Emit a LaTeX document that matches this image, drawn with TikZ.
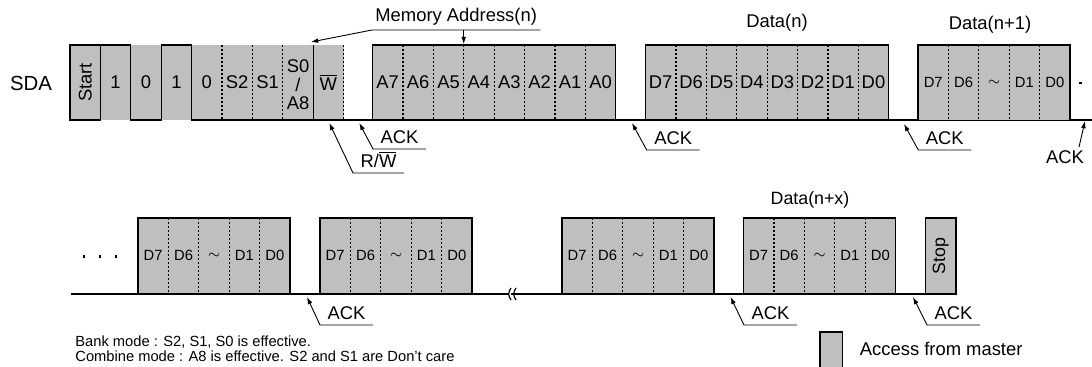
\documentclass[tikz,border=0pt]{standalone}
\usepackage{fontspec}
\setmainfont{Liberation Sans}
\usetikzlibrary{arrows.meta,positioning,calc}
\definecolor{mastergray}{RGB}{190,191,193}
\newcommand{\fsz}[1]{\fontsize{#1}{#1}\selectfont}

\begin{document}
\begin{tikzpicture}[x=0.5pt, y=-0.5pt,
    wave/.style={line width=0.6pt, line join=miter},
    sep/.style={line width=0.6pt, dash pattern=on 1pt off 1pt},
    lead/.style={line width=0.45pt, -{Latex[length=3.6pt,width=2.4pt]}},
    tag/.style={font=\fsz{9.2}, inner xsep=3.6pt, inner ysep=2.3pt, anchor=south west},
    bit/.style={font=\fsz{9.2}, inner sep=0pt},
    sbit/.style={font=\fsz{7.4}, inner sep=0pt},
    ttl/.style={font=\fsz{9.2}, inner sep=0pt}
]
    \useasboundingbox (0,0) rectangle (1092,367);

    % --- first row: device address, memory address, data
    \fill[mastergray] (70,45) rectangle (343.6,120);
    \fill[mastergray] (372.5,45) rectangle (615.7,120);
    \fill[mastergray] (645.5,45) rectangle (888.7,120);

    \foreach \x in {222,252.4,282.8,343.6} \draw[sep] (\x,45) -- (\x,120);
    \foreach \j in {1,...,7} {
        \draw[sep] (372.5+30.4*\j,45) -- ++(0,75);
        \draw[sep] (645.5+30.4*\j,45) -- ++(0,75);
    }

    \draw[wave] (70,120) rectangle (100.4,45);
    \draw[wave] (100.4,45) -- (130.8,45) -- (130.8,120) -- (161.2,120) -- (161.2,45)
        -- (191.6,45) -- (191.6,120) -- (1092,120);
    \draw[wave] (313.2,45) -- (313.2,120);
    \draw[wave] (372.5,120) |- (615.7,45) -- (615.7,120);
    \draw[wave] (645.5,120) |- (888.7,45) -- (888.7,120);

    \node[font=\fsz{10.2}] (sda) at (31,83) {SDA};
    \node[bit, rotate=90] (start) at (85.2,82.5) {Start};
    \foreach \t [count=\i] in {1,0,1,0,S2,S1}
        \node[bit] (h\i) at (100.4+30.4*\i-15.2,82.5) {\t};
    \node[bit, align=center] (h7) at (298,85) {S0\\/\\A8};
    \node[bit] (h8) at (328.4,82.5) {$\overline{\hbox{W}}$};
    \foreach \t [count=\i] in {A7,A6,A5,A4,A3,A2,A1,A0}
        \node[bit] (a\i) at (372.5+30.4*\i-15.2,82.5) {\t};
    \foreach \t [count=\i] in {D7,D6,D5,D4,D3,D2,D1,D0}
        \node[bit] (d\i) at (645.5+30.4*\i-15.2,82.5) {\t};

    % --- five bit boxes (first row end, second row)
    \foreach \bx/\by [count=\k] in {918/45, 138/218, 320/218, 562/218, 743.5/218} {
        \fill[mastergray] (\bx,\by) rectangle (\bx+152,\by+75);
        \foreach \j in {1,...,4} \draw[sep] (\bx+30.4*\j,\by) -- ++(0,75);
        \draw[wave] (\bx,\by+75) |- (\bx+152,\by) -- (\bx+152,\by+75);
        \foreach \t [count=\j] in {D7,D6,$\sim$,D1,D0}
            \node[sbit] (q\k-\j) at (\bx+30.4*\j-15.2,\by+37.5) {\t};
    }
    \fill (1079,82) rectangle (1081.5,84.5);

    % --- second row
    \draw[wave] (71.4,294) -- (956,294);
    \draw[wave, fill=white] (511,288) .. controls (508,292) and (508,296) .. (511,300);
    \draw[wave] (516,288) .. controls (513,292) and (513,296) .. (516,300);
    \foreach \x in {84,100,116} \fill (\x-1.2,255.5) rectangle (\x+1.2,258);
    \draw[wave, fill=mastergray] (925.6,218) rectangle (956,294);
    \node[bit, rotate=90, font=\fsz{8.9}] (stop) at (940.8,256) {Stop};

    % --- titles
    \node[tag, inner xsep=1.5pt] (mem) at (372,30) {Memory Address(n)};
    \node[ttl] (datn) at (777,23) {Data(n)};
    \node[ttl] (datn1) at (990,25) {Data(n+1)};
    \node[ttl, font=\fsz{8.9}] (datnx) at (810,200) {Data(n+x)};

    % --- arrow targets
    \coordinate (tS0) at (311,42);
    \coordinate (tA4) at (463.7,44);
    \coordinate (tRW) at (329.3,123);
    \coordinate (t1) at (359.3,123);
    \coordinate (t2) at (632,123);
    \coordinate (t3) at (904,124);
    \coordinate (t4) at (1085,121);
    \coordinate (t5) at (307,297);
    \coordinate (t6) at (730.5,297);
    \coordinate (t7) at (913,297);

    \draw[lead] (mem.south east) -- (mem.south west) -- (tS0);
    \draw[lead] (mem.south -| tA4) -- (tA4);

    \node[tag] (rw) at (353,173) {R/$\overline{\hbox{W}}$};
    \draw[lead] (rw.south east) -- (rw.south west) -- (tRW);

    \node[tag] (ack1) at (373,149) {ACK};
    \node[tag] (ack2) at (646.7,150) {ACK};
    \node[tag] (ack3) at (918.3,150) {ACK};
    \node[tag] (ack5) at (320,325) {ACK};
    \node[tag] (ack6) at (744,325) {ACK};
    \node[tag] (ack7) at (927,325) {ACK};
    \foreach \n/\t in {ack1/t1, ack2/t2, ack3/t3, ack5/t5, ack6/t6, ack7/t7}
        \draw[lead] (\n.south east) -- (\n.south west) -- (\t);

    \node[ttl] (ack4) at (1065,157) {ACK};
    \draw[lead] ([xshift=7pt, yshift=1.5pt]ack4.north) -- (t4);

    % --- notes and legend
    \node[font=\fsz{7.35}, inner sep=0pt, anchor=base west] (note1) at (75,347) {Bank mode : S2, S1, S0 is effective.};
    \node[font=\fsz{7.35}, inner sep=0pt, anchor=base west] (note2) at (75,362) {Combine mode : A8 is effective. S2 and S1 are Don't care};
    \draw[wave, fill=mastergray] (820,332) rectangle (842.5,372);
    \node[ttl, anchor=west] (legend) at (859.5,349) {Access from master};
\end{tikzpicture}
\end{document}
